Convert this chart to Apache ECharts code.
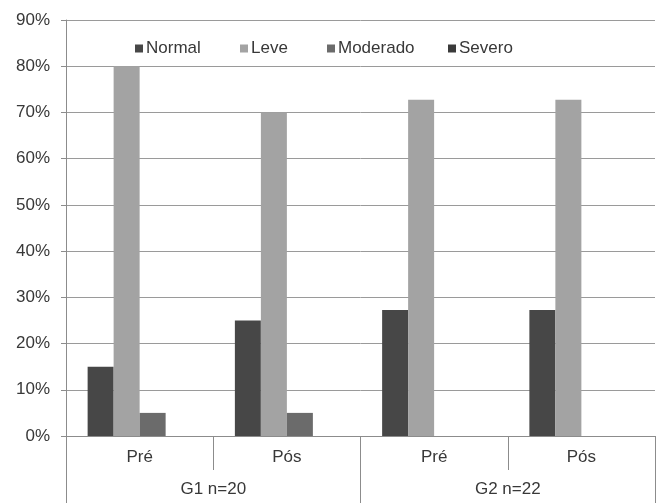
<!DOCTYPE html>
<html>
<head>
<meta charset="utf-8">
<script src="https://cdn.jsdelivr.net/npm/echarts@6/dist/echarts.min.js"></script>
<style>html,body{margin:0;padding:0;background:#fff;}#c{width:657px;height:503px;}</style>
</head>
<body>
<div id="c"></div>
<script>
var categories = ['Pré', 'Pós', 'Pré', 'Pós'];
var groups = ['G1 n=20', 'G2 n=22'];
var seriesNames = ['Normal', 'Leve', 'Moderado', 'Severo'];
var normal = [15, 25, 27.27, 27.27];
var leve = [80, 70, 72.73, 72.73];
var moderado = [5, 5, 0, 0];
var severo = [0, 0, 0, 0];
var colors = ['#474747', '#a3a3a3', '#6b6b6b', '#3a3a3a'];
var yTicks = [0, 10, 20, 30, 40, 50, 60, 70, 80, 90];

var font = 'Liberation Sans, Arial, sans-serif';
var textColor = '#383838';
var legendLefts = [135, 240, 327, 448];
var values = [normal, leve, moderado, severo];
var chart = echarts.init(document.getElementById('c'));
chart.setOption({
  animation: false,
  backgroundColor: '#fff',
  grid: { left: 66, right: 2, top: 20, bottom: 67 },
  legend: seriesNames.map(function (n, i) {
    return {
      left: legendLefts[i], top: 40, padding: 0,
      itemWidth: 8, itemHeight: 8,
      icon: 'rect',
      textStyle: { fontFamily: font, fontSize: 17, color: textColor, padding: [0, 0, 0, -2] },
      data: [n]
    };
  }),
  xAxis: [{
    type: 'category',
    data: categories,
    position: 'bottom',
    axisLine: { show: true, lineStyle: { color: '#8c8c8c', width: 1 } },
    axisTick: { show: true, length: 34, lineStyle: { color: '#8c8c8c' } },
    axisLabel: { margin: 13, fontFamily: font, fontSize: 17, color: textColor },
    splitLine: { show: false }
  }, {
    type: 'category',
    data: groups,
    position: 'bottom',
    offset: 34,
    axisLine: { show: false },
    axisTick: { show: true, length: 33, lineStyle: { color: '#8c8c8c' } },
    axisLabel: { margin: 11, fontFamily: font, fontSize: 17, color: textColor },
    splitLine: { show: false }
  }],
  yAxis: {
    type: 'value',
    min: yTicks[0], max: yTicks[yTicks.length - 1], interval: 10,
    axisLine: { show: true, lineStyle: { color: '#8c8c8c' } },
    axisTick: { show: true, length: 5, lineStyle: { color: '#8c8c8c' } },
    axisLabel: { margin: 16, fontFamily: font, fontSize: 17, color: textColor, formatter: '{value}%' },
    splitLine: { show: true, lineStyle: { color: '#9a9a9a', width: 1 } }
  },
  series: seriesNames.map(function (n, i) {
    return {
      name: n, type: 'bar', xAxisIndex: 0,
      data: values[i],
      barWidth: 26, barGap: '0%',
      itemStyle: { color: colors[i] }
    };
  })
});
</script>
</body>
</html>
